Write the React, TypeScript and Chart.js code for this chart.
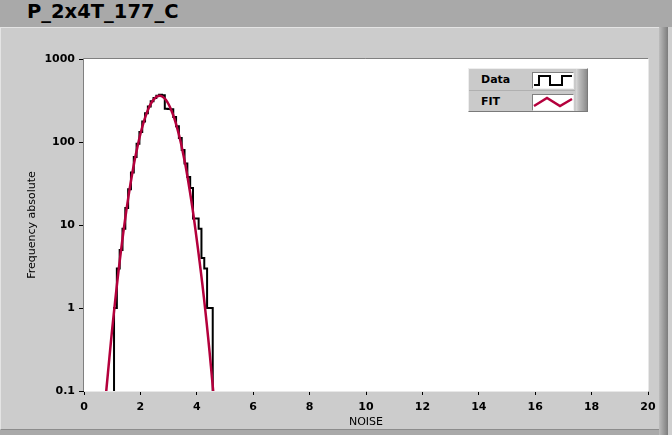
import React, { useEffect, useRef } from 'react';
import { Chart, registerables } from 'chart.js';

Chart.register(...registerables);

const chartTitle = 'P_2x4T_177_C';
const xAxisTitle = 'NOISE';
const yAxisTitle = 'Frequency absolute';
const legendLabels = ['Data', 'FIT'];

const xMin = 0;
const xMax = 20;
const xStep = 2;
const yMin = 0.1;
const yMax = 1000;
const yTickValues = [0.1, 1, 10, 100, 1000];
const yTickLabels = ['0.1', '1', '10', '100', '1000'];

// Histogram bin edges (NOISE) and absolute counts per bin
const binEdges = [
  1.065, 1.165, 1.265, 1.365, 1.465, 1.565, 1.665, 1.765, 1.865, 1.965,
  2.065, 2.165, 2.265, 2.365, 2.465, 2.565, 2.665, 2.765, 2.865, 2.965,
  3.065, 3.165, 3.265, 3.365, 3.465, 3.565, 3.665, 3.765, 3.865, 3.965,
  4.065, 4.165, 4.265, 4.365, 4.465, 4.565,
];
const binCounts = [
  1, 3, 5, 9, 16, 27, 43, 66, 95, 132,
  176, 222, 268, 310, 340, 362, 370, 366, 252, 250,
  248, 200, 155, 112, 80, 55, 38, 28, 12, 12,
  9, 4, 3, 1, 1,
];
// empty bins outside the histogram drop below the log axis floor
const emptyBinValue = 0.01;

// Fitted curve samples
const fitX = [
  0.7, 0.8, 0.9, 1.0, 1.1, 1.2, 1.3, 1.4, 1.5, 1.6,
  1.7, 1.8, 1.9, 2.0, 2.1, 2.2, 2.3, 2.4, 2.5, 2.6,
  2.7, 2.8, 2.9, 3.0, 3.1, 3.2, 3.3, 3.4, 3.5, 3.6,
  3.7, 3.8, 3.9, 4.0, 4.1, 4.2, 4.3, 4.4, 4.5, 4.6,
];
const fitY = [
  0.045, 0.11, 0.25, 0.56, 1.17, 2.37, 4.56, 8.4, 14.8, 24.8,
  39.8, 61, 89, 125, 166, 212, 259, 301, 334, 355,
  360, 348, 322, 285, 240, 194, 149, 110, 77, 52,
  33, 20.3, 11.9, 6.6, 3.6, 1.9, 0.95, 0.45, 0.2, 0.085,
];

const DATA_COLOR = '#000000';
const FIT_COLOR = '#b4003c';
const FONT = 'DejaVu Sans';

const framePlugin = {
  id: 'frame',
  beforeDatasetsDraw(chart: any) {
    const { ctx, chartArea: a } = chart;
    ctx.save();
    ctx.fillStyle = '#ffffff';
    ctx.fillRect(a.left, a.top, a.right - a.left, a.bottom - a.top);
    ctx.restore();
  },
  afterDraw(chart: any) {
    const { ctx, chartArea: a } = chart;
    ctx.save();
    ctx.lineWidth = 1;
    ctx.strokeStyle = '#808080';
    ctx.beginPath();
    ctx.moveTo(a.left - 0.5, a.bottom);
    ctx.lineTo(a.left - 0.5, a.top - 0.5);
    ctx.lineTo(a.right, a.top - 0.5);
    ctx.stroke();
    ctx.strokeStyle = '#e8e8e8';
    ctx.beginPath();
    ctx.moveTo(a.right + 0.5, a.top);
    ctx.lineTo(a.right + 0.5, a.bottom + 0.5);
    ctx.lineTo(a.left, a.bottom + 0.5);
    ctx.stroke();
    ctx.restore();
  },
};

function ChartCanvas() {
  const ref = useRef<HTMLCanvasElement | null>(null);
  useEffect(() => {
    if (!ref.current) return;
    const histData: { x: number; y: number }[] = [{ x: binEdges[0], y: emptyBinValue }];
    binCounts.forEach((c, i) => histData.push({ x: binEdges[i], y: c }));
    histData.push({ x: binEdges[binEdges.length - 1], y: emptyBinValue });
    const fitData = fitX.map((x, i) => ({ x, y: fitY[i] }));

    const chart = new Chart(ref.current, {
      type: 'line',
      data: {
        datasets: [
          {
            label: legendLabels[0],
            data: histData,
            borderColor: DATA_COLOR,
            borderWidth: 2,
            pointRadius: 0,
            stepped: 'before',
            order: 2,
          },
          {
            label: legendLabels[1],
            data: fitData,
            borderColor: FIT_COLOR,
            borderWidth: 2.5,
            pointRadius: 0,
            tension: 0.3,
            order: 1,
          },
        ],
      } as any,
      options: {
        responsive: false,
        animation: false,
        events: [],
        layout: { padding: { left: 0, right: 24, top: 59, bottom: 0 } },
        plugins: { legend: { display: false }, tooltip: { enabled: false } },
        scales: {
          x: {
            type: 'linear',
            min: xMin,
            max: xMax,
            afterFit: (s: any) => { s.height = 44; },
            ticks: {
              stepSize: xStep,
              color: '#000',
              font: { family: FONT, size: 11, weight: 'bold' },
              padding: 6,
              maxRotation: 0,
              autoSkip: false,
            },
            grid: { display: true, drawOnChartArea: false, drawTicks: true, tickLength: 4, color: '#000' },
            border: { display: false },
            title: {
              display: true,
              text: xAxisTitle,
              color: '#000',
              font: { family: FONT, size: 11 },
              padding: { top: 0, bottom: 6 },
            },
          },
          y: {
            type: 'logarithmic',
            min: yMin,
            max: yMax,
            afterFit: (s: any) => { s.width = 84; },
            afterBuildTicks: (s: any) => { s.ticks = yTickValues.map((v) => ({ value: v })); },
            ticks: {
              color: '#000',
              font: { family: FONT, size: 11, weight: 'bold' },
              padding: 4,
              autoSkip: false,
              callback: (v: any) => {
                const i = yTickValues.findIndex((t) => Math.abs(t - Number(v)) < 1e-9);
                return i >= 0 ? yTickLabels[i] : '';
              },
            },
            grid: { display: true, drawOnChartArea: false, drawTicks: true, tickLength: 5, color: '#000' },
            border: { display: false },
            title: {
              display: true,
              text: yAxisTitle,
              color: '#000',
              font: { family: FONT, size: 11 },
              padding: { top: 26, bottom: 0 },
            },
          },
        },
      } as any,
      plugins: [framePlugin],
    });
    return () => chart.destroy();
  }, []);
  return (
    <canvas
      ref={ref}
      width={672}
      height={435}
      style={{ position: 'absolute', left: 0, top: 0, width: 672, height: 435 }}
    />
  );
}

function Legend() {
  const rowStyle = (top: number): React.CSSProperties => ({
    position: 'absolute',
    left: 0,
    top,
    width: 105,
    height: 22,
  });
  const textStyle: React.CSSProperties = {
    position: 'absolute',
    left: 12,
    top: 3,
    fontFamily: FONT,
    fontSize: 11,
    fontWeight: 'bold',
    lineHeight: '16px',
    color: '#000',
  };
  const swatch: React.CSSProperties = {
    position: 'absolute',
    left: 63,
    top: 3,
    width: 40,
    height: 15,
    background: '#fff',
    borderTop: '1px solid #808080',
    borderLeft: '1px solid #808080',
    borderRight: '1px solid #f0f0f0',
    borderBottom: '1px solid #f0f0f0',
  };
  return (
    <div
      style={{
        position: 'absolute',
        left: 468,
        top: 68,
        width: 120,
        height: 44,
        background: '#cacaca',
        borderTop: '1px solid #eeeeee',
        borderLeft: '1px solid #eeeeee',
        borderRight: '1px solid #7a7a7a',
        borderBottom: '1px solid #7a7a7a',
        boxSizing: 'border-box',
      }}
    >
      <div style={rowStyle(0)}>
        <div style={textStyle}>{legendLabels[0]}</div>
        <div style={swatch}>
          <svg width="40" height="15" style={{ display: 'block' }}>
            <polyline
              points="1,12 6,12 6,3 17,3 17,12 29,12 29,3 39,3"
              fill="none"
              stroke={DATA_COLOR}
              strokeWidth="2"
            />
          </svg>
        </div>
      </div>
      <div style={{ position: 'absolute', left: 0, top: 21, width: 106, height: 1, background: '#b0b0b0' }} />
      <div style={rowStyle(22)}>
        <div style={textStyle}>{legendLabels[1]}</div>
        <div style={swatch}>
          <svg width="40" height="15" style={{ display: 'block' }}>
            <polyline
              points="1,11 14,3 27,11 39,4"
              fill="none"
              stroke={FIT_COLOR}
              strokeWidth="2.5"
            />
          </svg>
        </div>
      </div>
      <div
        style={{
          position: 'absolute',
          left: 107,
          top: 0,
          width: 11,
          height: 42,
          background: 'linear-gradient(to right, #d8d8d8 0px, #bdbdbd 3px, #a5a5a5 7px, #8a8a8a 11px)',
        }}
      />
    </div>
  );
}

export default function App() {
  return (
    <div
      style={{
        position: 'fixed',
        left: 0,
        top: 0,
        width: 672,
        height: 435,
        background: '#a9a9a9',
        overflow: 'hidden',
      }}
    >
      <div
        style={{
          position: 'absolute',
          left: 27,
          top: 0,
          fontFamily: FONT,
          fontSize: 19.5,
          fontWeight: 'bold',
          lineHeight: '24px',
          color: '#000',
          whiteSpace: 'nowrap',
        }}
      >
        {chartTitle}
      </div>
      <div
        style={{
          position: 'absolute',
          left: 0,
          top: 27,
          width: 659,
          height: 403,
          background: '#cccccc',
          borderTop: '1px solid #e4e4e4',
          borderLeft: '1px solid #e4e4e4',
          borderBottom: '1px solid #8c8c8c',
          boxSizing: 'border-box',
        }}
      />
      <div
        style={{
          position: 'absolute',
          left: 659,
          top: 27,
          width: 9,
          height: 408,
          background: 'linear-gradient(to right, #bcbcbc, #9c9c9c 50%, #7c7c7c)',
        }}
      />
      <div
        style={{
          position: 'absolute',
          left: 668,
          top: 27,
          width: 4,
          height: 408,
          background: '#cfcfcf',
        }}
      />
      <ChartCanvas />
      <Legend />
    </div>
  );
}
